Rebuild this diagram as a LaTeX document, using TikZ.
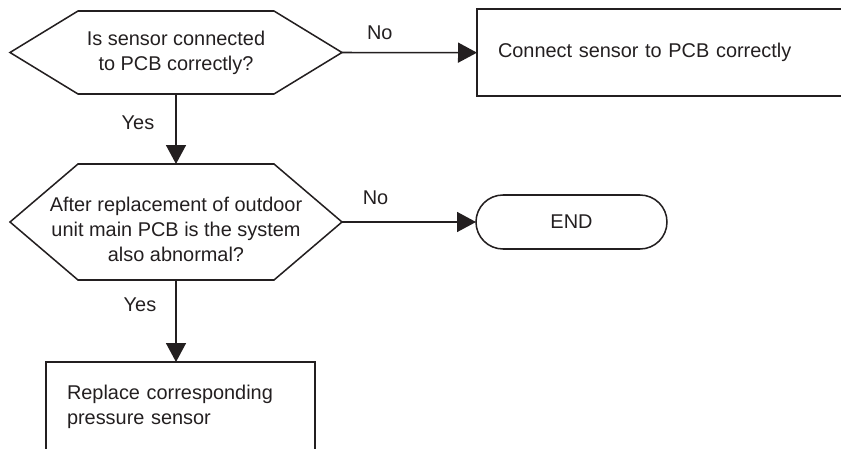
\documentclass[tikz,border=0pt]{standalone}
\usepackage{fontspec}
\setmainfont{Liberation Sans}
\usetikzlibrary{arrows.meta,positioning}
\definecolor{Ink}{HTML}{231F20}
\newcommand\hexoutline[2]{%
  \draw (#1.west) -- ([xshift=#2]#1.north west) -- ([xshift=-#2]#1.north east)
    -- (#1.east) -- ([xshift=-#2]#1.south east) -- ([xshift=#2]#1.south west) -- cycle;}

\begin{document}
\begin{tikzpicture}[font=\fontsize{17}{21.3}\selectfont,color=Ink,line width=1.3pt,
    decision/.style={inner sep=0pt,outer sep=0pt,minimum width=9.96cm,align=center},
    action/.style={draw,inner xsep=0.63cm,inner ysep=0pt,outer sep=0pt,align=left},
    terminal/.style={draw,rounded corners=0.81cm,minimum width=5.73cm,minimum height=1.62cm,inner sep=0pt,outer sep=0pt},
    flow/.style={-{Triangle[length=0.57cm,width=0.6cm]}},
    branch/.style={inner sep=0pt}]
    \useasboundingbox (0,0) rectangle (25.23,13.44);
    \clip (0,0) rectangle (25.23,13.44);
    \node[decision,minimum height=2.49cm] (q1) at (5.28,11.865) {Is sensor connected\\to PCB correctly?};
    \hexoutline{q1}{2.04cm}
    \node[action,anchor=west,text width=10cm,minimum height=2.61cm] (fix) at (14.31,11.86) {Connect sensor to PCB correctly};
    \node[decision,minimum height=3.48cm,
      label={[name=q2text,align=center,yshift=-0.22cm]center:After replacement of outdoor\\unit main PCB is the system\\also abnormal?}] (q2) at (5.28,6.78) {};
    \hexoutline{q2}{2.04cm}
    \node[terminal,anchor=west] (stop) at (14.28,6.78) {END};
    \node[action,anchor=north west,text width=6.81cm,minimum height=2.70cm] (replace) at (1.38,2.58) {Replace corresponding\\pressure sensor};
    \draw[flow] (q1.east) -- node[branch,pos=0.28,above=0.36cm] {No} (fix.west);
    \draw[flow] (q1.south) -- node[branch,pos=0.41,left=0.63cm] {Yes} (q2.north);
    \draw[flow] (q2.east) -- node[branch,pos=0.25,above=0.5cm] {No} (stop.west);
    \draw[flow] (q2.south) -- node[branch,pos=0.30,left=0.57cm] {Yes} (q2.south |- replace.north);
  \end{tikzpicture}
\end{document}
